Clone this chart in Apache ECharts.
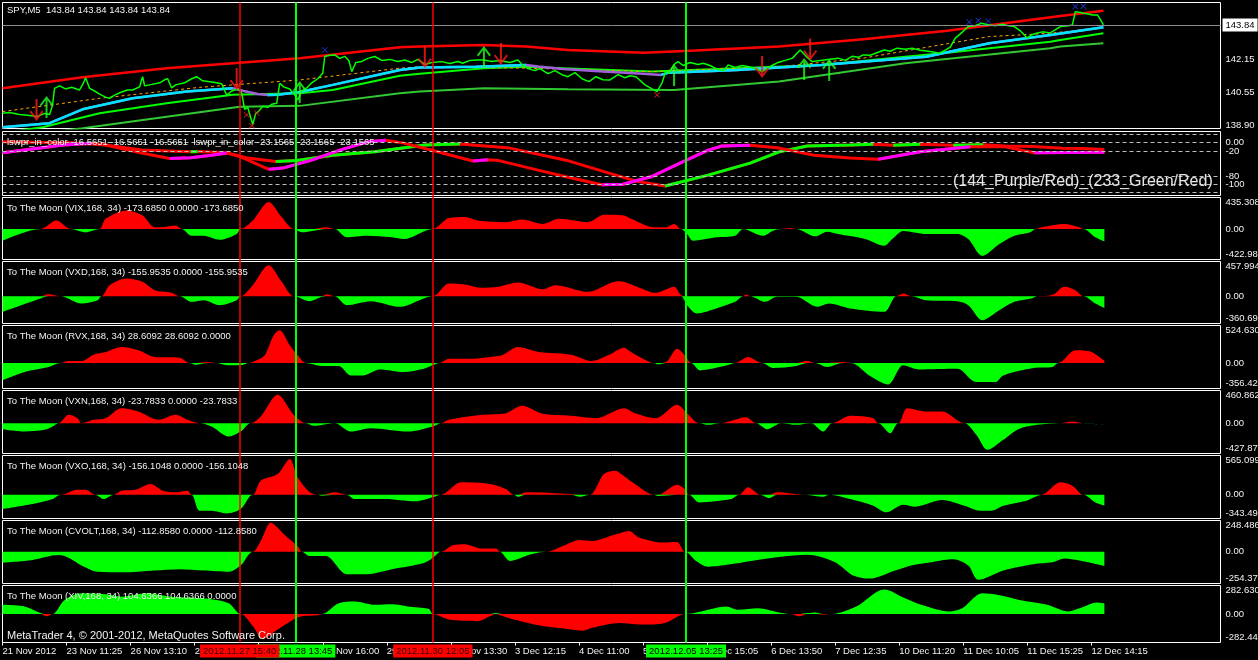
<!DOCTYPE html>
<html><head><meta charset="utf-8">
<script src="https://cdn.jsdelivr.net/npm/echarts@6/dist/echarts.min.js"></script>
<style>html,body{margin:0;padding:0;background:#000;}#c{width:1258px;height:660px;}</style>
</head><body><div id="c"></div>
<script>
// ---------------- DATA (x = bar index, 1 bar = one M5 candle) ----------------
const timeTicks = [0,64,128,192,256,320,384,448,512,576,640,704,768,832,896,960,1024,1088];
const timeLabels = ['21 Nov 2012','23 Nov 11:25','26 Nov 13:10','27 Nov 11:55','28 Nov 10:40','28 Nov 16:00','29 Nov 14:45','30 Nov 13:30','3 Dec 12:15','4 Dec 11:00','5 Dec 09:45','5 Dec 15:05','6 Dec 13:50','7 Dec 12:35','10 Dec 11:20','11 Dec 10:05','11 Dec 15:25','12 Dec 14:15'];

const markerBars = [293, 683, 237, 430];
const markerLabels = ['2012.11.28 13:45','2012.12.05 13:25','2012.11.27 15:40','2012.11.30 12:05'];
const markerColors = ['#00ff00','#00ff00','#ff0000','#ff0000'];

const priceTicks = [138.90, 140.55, 142.15];
const lastPrice = 143.84;

const price = [[0,139.51],[7,139.55],[17,139.45],[27,139.40],[35,139.35],[42,139.50],[47,139.45],[50,139.90],[52,140.73],[57,140.85],[63,140.70],[69,140.78],[77,140.65],[81,141.00],[83,141.25],[87,140.73],[92,140.60],[97,140.45],[103,140.30],[107,140.24],[112,140.40],[119,140.55],[125,140.65],[130,140.65],[137,140.80],[140,141.30],[142,140.85],[147,140.90],[157,141.00],[162,141.15],[165,141.20],[169,140.75],[173,140.90],[182,141.00],[189,141.20],[194,141.30],[200,141.10],[207,141.05],[214,141.00],[219,140.95],[224,140.40],[229,140.60],[235,140.70],[239,140.50],[242,139.70],[245,139.80],[248,139.30],[250,138.95],[253,139.50],[256,139.60],[260,139.85],[265,139.80],[269,139.95],[274,140.00],[277,140.98],[281,140.80],[287,140.70],[292,140.40],[295,140.16],[299,140.60],[304,140.75],[309,141.00],[315,141.20],[320,141.47],[322,142.29],[327,142.35],[332,142.37],[337,142.20],[342,142.30],[346,142.10],[349,141.55],[353,142.00],[359,142.05],[365,142.20],[372,142.29],[379,142.10],[387,142.15],[395,142.05],[402,142.12],[409,142.00],[415,142.15],[422,141.90],[429,142.00],[439,142.04],[447,141.95],[455,142.05],[460,141.96],[467,142.10],[475,142.12],[481,142.12],[489,142.05],[497,142.10],[507,142.00],[515,142.12],[520,141.85],[525,141.70],[532,141.60],[537,141.70],[545,141.45],[552,141.60],[559,141.40],[565,141.30],[572,141.50],[579,141.20],[586,141.06],[593,141.30],[600,141.15],[607,141.14],[615,141.40],[622,141.25],[627,141.35],[633,141.30],[642,140.90],[649,140.70],[654,140.57],[659,141.00],[663,141.60],[666,141.47],[671,141.90],[675,142.04],[680,141.85],[687,142.00],[695,141.90],[700,141.96],[707,141.85],[713,141.70],[717,141.63],[721,141.60],[725,141.88],[732,141.75],[739,141.85],[746,141.79],[752,141.70],[759,141.55],[767,141.80],[775,142.00],[782,142.10],[789,142.20],[797,142.61],[803,142.30],[809,142.04],[817,142.10],[825,142.15],[835,142.21],[842,142.10],[849,142.30],[855,142.25],[860,142.37],[867,142.35],[875,142.50],[881,142.61],[887,142.55],[894,142.70],[902,142.65],[909,142.70],[917,142.60],[925,142.55],[931,142.50],[936,142.45],[942,142.60],[947,142.75],[952,143.19],[957,143.40],[965,143.76],[972,143.80],[978,143.92],[985,143.85],[992,143.80],[999,143.88],[1005,143.80],[1011,143.76],[1017,143.55],[1024,143.19],[1028,143.35],[1033,143.43],[1039,143.50],[1047,143.45],[1057,143.76],[1065,143.80],[1069,143.84],[1072,144.49],[1077,144.45],[1080,144.41],[1085,144.38],[1089,144.33],[1094,144.33],[1097,144.10],[1100,143.84]];
const upperBand = [[0,140.73],[80,141.27],[164,141.72],[237,141.99],[297,142.21],[397,142.74],[417,142.78],[481,142.86],[523,142.78],[565,142.61],[641,142.48],[692,142.58],[776,142.78],[860,143.14],[944,143.55],[1057,144.28],[1100,144.54]];
const cyanMA = [[0,138.82],[47,139.02],[80,139.70],[130,140.24],[184,140.57],[230,140.73],[241,140.60],[255,140.45],[265,140.40],[275,140.42],[297,140.55],[330,140.90],[397,141.63],[417,141.75],[473,141.79],[523,141.88],[535,141.80],[560,141.68],[600,141.55],[640,141.45],[658,141.39],[666,141.50],[734,141.63],[818,141.88],[923,142.28],[986,142.94],[1047,143.35],[1100,143.73]];
const limeMA = [[0,138.55],[40,138.82],[97,139.51],[164,140.00],[230,140.41],[297,140.49],[330,140.65],[397,141.35],[417,141.45],[481,141.72],[523,141.79],[560,141.72],[649,141.55],[734,141.72],[818,141.88],[902,142.28],[944,142.48],[1047,143.02],[1057,143.10],[1100,143.43]];
const slowMA = [[0,138.30],[80,138.77],[164,139.34],[237,139.83],[297,139.87],[397,140.49],[417,140.57],[481,140.73],[565,140.69],[671,140.65],[776,141.06],[902,141.96],[1047,142.70],[1057,142.78],[1100,142.94]];
const trendLine = [[0,139.59],[97,140.24],[197,140.78],[297,141.14],[397,141.72],[417,141.79],[523,141.72],[649,141.55],[776,141.79],[860,142.21],[986,143.27],[1047,143.43],[1070,143.56],[1094,143.68]];
const sellArrows = [[34,139.67],[234,141.19],[422,142.25],[498,142.42],[759,141.78],[807,142.64]];
const buyArrows = [[44,139.82],[297,140.55],[481,142.27],[671,141.39],[801,141.68],[826,141.63]];
const blueMarks = [[322,142.61],[966,143.98],[975,144.06],[985,144.02],[1072,144.74],[1080,144.76]];
const redMarks = [[244,139.43],[249,138.90],[254,139.52],[654,140.41]];

const wprLevels = [20, 0, -20, -80, -100, -120];
const wprFast = [[0,-24],[61,-5.5],[89,-1.4],[103,-5.5],[139,-25],[167,-38],[188,-36],[209,-30],[224,-25],[238,-34],[252,-49],[266,-64],[280,-61],[309,-42],[337,-18],[365,2],[383,6],[401,-1],[429,-18],[470,-44],[485,-41],[496,-43],[535,-66],[563,-82],[599,-101],[620,-100],[648,-82],[677,-49],[705,-18],[719,-8],[747,-6],[776,-13],[811,-30],[847,-37],[875,-40],[917,-22],[967,-10],[1002,-10],[1031,-24],[1101,-23.2]];
const wprSlow = [[0,2],[68,0],[103,-5.5],[139,-17.5],[188,-22],[195,-21],[224,-24],[245,-37],[273,-45],[294,-43],[330,-30],[372,-22],[422,-5.5],[457,-3],[507,-13],[563,-42],[606,-73],[634,-93],[662,-104],[705,-78],[747,-49],[776,-22],[804,-8],[847,-5.5],[870,-4],[890,-6],[917,-4],[950,-6],[980,-5],[1002,-8],[1030,-9],[1059,-13.4],[1080,-14],[1101,-16.6]];

const vix = [[0,-164],[38,0],[54,116],[68,0],[83,-46],[97,0],[103,140],[124,256],[140,186],[152,24],[160,24],[173,46],[179,0],[189,-94],[201,-94],[217,-150],[234,-70],[238,0],[250,116],[266,374],[279,164],[291,0],[299,-46],[311,-24],[323,24],[332,0],[344,-116],[364,-94],[389,-116],[401,-140],[430,0],[446,150],[462,164],[475,116],[503,94],[519,130],[540,70],[556,140],[585,94],[601,196],[621,186],[628,140],[651,24],[663,24],[671,70],[678,0],[684,-70],[690,-164],[713,-116],[732,-94],[740,0],[760,-94],[770,-24],[778,0],[787,14],[793,0],[812,-102],[824,-38],[835,-70],[862,-140],[881,-234],[889,-140],[900,-28],[923,-70],[954,-70],[965,-140],[979,-374],[996,-210],[1011,-94],[1027,-46],[1032,0],[1038,24],[1061,70],[1076,24],[1080,0],[1092,-116],[1101,-174]];
const vxd = [[0,-207],[38,-30],[46,26],[58,0],[79,-97],[95,-53],[99,0],[107,145],[124,234],[140,189],[152,79],[168,49],[177,0],[189,-75],[201,-53],[217,-119],[234,-53],[238,0],[250,145],[266,409],[279,189],[291,0],[307,-66],[319,-9],[324,26],[332,0],[344,-119],[368,-66],[397,-141],[430,0],[446,167],[462,154],[479,110],[495,123],[515,181],[540,92],[552,145],[585,57],[609,181],[617,198],[632,136],[653,44],[671,123],[678,13],[684,-119],[694,-229],[713,-163],[732,-75],[740,0],[743,22],[747,0],[762,-75],[774,-9],[793,-9],[814,-141],[826,-97],[847,-163],[881,-207],[893,0],[900,35],[908,0],[923,-53],[954,-66],[965,-119],[979,-317],[996,-185],[1011,-75],[1028,-31],[1034,0],[1050,22],[1061,123],[1072,79],[1080,0],[1092,-97],[1101,-156]];
const rvx = [[0,-243],[22,-126],[46,-56],[58,0],[66,28],[79,28],[91,117],[103,154],[119,224],[136,177],[152,84],[177,75],[187,0],[193,-23],[205,14],[213,0],[226,-33],[238,-33],[246,0],[254,37],[262,107],[271,387],[277,457],[287,247],[295,107],[303,0],[319,-42],[336,-42],[348,-173],[360,-173],[377,-89],[401,-126],[421,-79],[430,-33],[436,0],[446,61],[470,61],[487,84],[499,107],[515,224],[536,154],[568,117],[589,28],[605,107],[621,215],[628,154],[640,61],[651,0],[655,-19],[663,14],[674,201],[682,107],[688,0],[697,-103],[724,-33],[732,0],[745,84],[759,0],[770,-70],[793,-42],[804,28],[812,0],[824,-56],[839,14],[848,0],[866,-173],[885,-300],[900,-33],[915,-89],[954,-79],[973,-266],[992,-266],[1000,-173],[1030,-70],[1049,-56],[1055,0],[1072,177],[1088,154],[1101,29]];
const vxn = [[0,-85],[22,-118],[42,-94],[50,-47],[56,0],[66,118],[75,71],[79,0],[91,47],[103,71],[119,212],[136,165],[156,47],[173,118],[185,47],[197,0],[209,-47],[226,-188],[238,-118],[248,0],[258,94],[275,400],[291,118],[303,0],[311,-38],[332,0],[348,-118],[368,-71],[405,-118],[430,-47],[438,0],[446,47],[479,118],[503,141],[519,245],[540,132],[568,104],[593,71],[621,212],[632,141],[653,71],[674,259],[684,141],[696,0],[705,-24],[717,0],[743,85],[753,0],[764,-85],[778,0],[793,-24],[808,0],[820,-118],[829,0],[847,104],[870,71],[875,0],[887,-141],[895,0],[904,212],[923,165],[939,165],[961,0],[973,-165],[984,-376],[1000,-235],[1015,-85],[1034,-24],[1057,0],[1069,24],[1080,0],[1101,-24]];
const vxo = [[0,-207],[30,-135],[50,-63],[58,0],[75,72],[83,72],[93,0],[101,-63],[111,0],[119,58],[132,67],[148,154],[160,58],[173,34],[185,58],[189,0],[197,-231],[209,-231],[224,-270],[238,-207],[250,0],[258,202],[275,298],[287,515],[295,250],[307,34],[315,0],[319,-14],[332,34],[344,0],[352,-63],[381,-63],[413,-96],[430,-38],[438,0],[458,178],[487,154],[503,82],[511,0],[515,-29],[523,34],[568,10],[577,-29],[587,0],[601,298],[613,346],[617,308],[632,154],[651,0],[655,-19],[674,144],[682,82],[686,0],[696,-111],[728,-63],[736,0],[745,106],[757,0],[766,-48],[774,34],[801,0],[820,-29],[826,0],[847,-63],[870,-159],[883,-255],[900,-144],[912,-173],[939,-77],[961,-159],[977,-231],[988,-231],[1000,-159],[1023,-87],[1032,-29],[1038,0],[1057,178],[1069,130],[1080,0],[1092,-111],[1101,-156]];
const cvolt = [[0,-88],[30,-66],[56,-27],[66,-48],[79,-110],[95,-160],[119,-165],[152,-150],[177,-140],[201,-150],[226,-160],[238,-110],[250,0],[258,85],[268,231],[283,125],[295,45],[299,0],[307,-35],[323,-35],[344,-180],[364,-180],[389,-140],[421,-90],[430,-48],[438,0],[450,51],[462,59],[479,24],[493,24],[497,0],[507,-74],[528,-21],[544,0],[560,45],[577,93],[589,85],[613,138],[626,165],[636,112],[659,72],[674,77],[682,0],[693,-74],[705,-120],[732,-95],[751,-70],[778,-40],[804,-25],[831,-80],[850,-190],[866,-215],[892,-150],[908,-110],[923,-90],[950,-60],[965,-110],[975,-225],[1000,-150],[1030,-100],[1049,-85],[1061,-55],[1076,-70],[1101,-113]];
const xiv = [[0,91],[22,75],[38,10],[44,-23],[50,0],[62,140],[79,205],[103,195],[119,172],[144,205],[168,172],[201,156],[226,107],[238,0],[250,-120],[260,-245],[275,-153],[291,-55],[299,-23],[315,-13],[319,0],[336,107],[352,124],[372,91],[389,97],[405,75],[426,49],[430,0],[446,-55],[475,-71],[487,-23],[493,10],[499,-17],[511,-55],[540,-120],[568,-153],[580,-165],[589,-136],[617,-88],[637,-104],[662,-88],[682,0],[698,26],[723,75],[735,42],[755,58],[776,16],[788,0],[796,-23],[804,10],[812,16],[820,-7],[828,0],[853,75],[881,244],[902,156],[918,91],[946,26],[959,58],[979,205],[995,188],[1016,140],[1044,91],[1064,26],[1081,75],[1093,114],[1101,105]];

// ---------------- LAYOUT ----------------
const FONT = "'Liberation Sans', Arial, sans-serif";
const TXT = '#f2f2f2';
const FS = 9.5;
const LEFT = 2.5, WIDTH = 1218, XMAX = 1217;
const panelBoxes = [
  {top:2.5, h:126}, {top:131.5, h:64}, {top:197.5, h:62}, {top:261.5, h:62},
  {top:325.5, h:63}, {top:390.5, h:63}, {top:455.5, h:63}, {top:520.5, h:63}, {top:585.5, h:57}
];
const oscDefs = [
  {data:vix, min:-422.9815, max:435.3083, pos:'#ff0000', neg:'#00ff00', title:'To The Moon (VIX,168, 34) -173.6850 0.0000 -173.6850'},
  {data:vxd, min:-360.6913, max:457.9946, pos:'#ff0000', neg:'#00ff00', title:'To The Moon (VXD,168, 34) -155.9535 0.0000 -155.9535'},
  {data:rvx, min:-356.4295, max:524.6303, pos:'#ff0000', neg:'#00ff00', title:'To The Moon (RVX,168, 34) 28.6092 28.6092 0.0000'},
  {data:vxn, min:-427.8701, max:460.8624, pos:'#ff0000', neg:'#00ff00', title:'To The Moon (VXN,168, 34) -23.7833 0.0000 -23.7833'},
  {data:vxo, min:-343.4953, max:565.0995, pos:'#ff0000', neg:'#00ff00', title:'To The Moon (VXO,168, 34) -156.1048 0.0000 -156.1048'},
  {data:cvolt, min:-254.3751, max:248.4864, pos:'#ff0000', neg:'#00ff00', title:'To The Moon (CVOLT,168, 34) -112.8580 0.0000 -112.8580'},
  {data:xiv, min:-282.4425, max:282.6309, pos:'#00ff00', neg:'#ff0000', title:'To The Moon (XIV,168, 34) 104.6366 104.6366 0.0000'}
];

function risingParts(pts){
  const out=[]; let last=-1;
  for(let i=0;i<pts.length-1;i++){
    if(pts[i+1][1]>pts[i][1]){
      if(last!==i){ if(out.length) out.push([pts[i][0], null]); out.push(pts[i]); }
      out.push(pts[i+1]); last=i+1;
    }
  }
  return out;
}

const grids=[], xAxes=[], yAxes=[], series=[], titles=[];
const gridBase = {outerBoundsMode:'none', containLabel:false};
panelBoxes.forEach((b,i)=>{
  grids.push(Object.assign({left:LEFT, top:b.top, width:WIDTH, height:b.h, show:true, borderColor:'#ffffff', borderWidth:1, backgroundColor:'#000'}, gridBase));
  xAxes.push({type:'value', gridIndex:i, min:0, max:XMAX, show:false});
});
grids.push(Object.assign({left:LEFT, top:2.5, width:WIDTH, height:640, show:false}, gridBase));
xAxes.push({type:'value', gridIndex:9, min:0, max:XMAX, position:'bottom',
  axisLine:{show:false}, splitLine:{show:false},
  axisTick:{show:true, customValues:timeTicks, length:3, lineStyle:{color:'#ffffff'}},
  axisLabel:{show:true, customValues:timeTicks, align:'left', color:TXT, fontSize:FS, fontFamily:FONT, margin:4,
    formatter:(v)=>timeLabels[timeTicks.indexOf(v)]}});

const axisBase = (gi,min,max,vals,fmt,extra)=>({type:'value', gridIndex:gi, min, max, position:'right',
  axisLine:{show:false}, splitLine:{show:false}, axisTick:{show:false},
  axisLabel:Object.assign({show:true, customValues:vals, color:TXT, fontSize:FS, fontFamily:FONT, margin:5, formatter:fmt}, extra||{})});

yAxes.push(axisBase(0, 138.76, 144.94, priceTicks, v=>v.toFixed(2)));
yAxes.push(axisBase(1, -126.9, 26.9, wprLevels, v=>v===0?'0.00':String(v)));
oscDefs.forEach((d,k)=>{
  yAxes.push(axisBase(k+2, d.min, d.max, [d.min,0,d.max], v=>v===0?'0.00':v.toFixed(4),
    {verticalAlignMaxLabel:'top', verticalAlignMinLabel:'bottom'}));
});
yAxes.push({type:'value', gridIndex:9, min:0, max:1, show:false});

const lineS = (gi,data,color,width,extra)=>Object.assign({type:'line', xAxisIndex:gi, yAxisIndex:gi, data, showSymbol:false, symbol:'none', smooth:false, silent:true,
  lineStyle:{color, width}, itemStyle:{color}}, extra||{});

// price panel
series.push(lineS(0, slowMA, '#32c832', 2));
series.push(lineS(0, limeMA, '#00ff00', 2));
series.push(lineS(0, trendLine, '#ffa500', 1, {lineStyle:{color:'#ffa500', width:1, type:[3,3]}}));
series.push(lineS(0, cyanMA, '#a060d8', 2.5));
series.push(lineS(0, risingParts(cyanMA), '#00e5ff', 2.5, {connectNulls:false}));
series.push(lineS(0, upperBand, '#ff0000', 2.5));
series.push(lineS(0, price, '#00ff00', 1.5, {
  markLine:{silent:true, symbol:['none','none'], animation:false,
    lineStyle:{color:'#8c8c8c', width:1, type:'solid'},
    label:{show:true, position:'end', distance:2, formatter:lastPrice.toFixed(2), color:'#000', backgroundColor:'#ffffff', padding:[2,3,1,3], fontSize:FS, fontFamily:FONT},
    data:[{yAxis:lastPrice}]}}));
const downPath = 'path://M6,0 L8,0 L8,16 L12.5,10.5 L14,11.7 L7,20 L0,11.7 L1.5,10.5 L6,16 Z';
const upPath = 'path://M6,20 L8,20 L8,4 L12.5,9.5 L14,8.3 L7,0 L0,8.3 L1.5,9.5 L6,4 Z';
const xPath = 'path://M0,1 L1,0 L5,4 L9,0 L10,1 L6,5 L10,9 L9,10 L5,6 L1,10 L0,9 L4,5 Z';
series.push({type:'scatter', xAxisIndex:0, yAxisIndex:0, data:sellArrows, symbol:downPath, symbolSize:[14,22], itemStyle:{color:'#ff1a1a'}, silent:true, z:5});
series.push({type:'scatter', xAxisIndex:0, yAxisIndex:0, data:buyArrows, symbol:upPath, symbolSize:[14,22], itemStyle:{color:'#22ff22'}, silent:true, z:5});
series.push({type:'scatter', xAxisIndex:0, yAxisIndex:0, data:blueMarks, symbol:xPath, symbolSize:6, itemStyle:{color:'#2040ff'}, silent:true, z:5});
series.push({type:'scatter', xAxisIndex:0, yAxisIndex:0, data:redMarks, symbol:xPath, symbolSize:6, itemStyle:{color:'#ff2020'}, silent:true, z:5});

// wpr panel
series.push(lineS(1, wprSlow, '#ff0000', 3, {
  markLine:{silent:true, symbol:['none','none'], animation:false, label:{show:false},
    lineStyle:{color:'#bdbdbd', width:1, type:[4,3]}, data:wprLevels.map(v=>({yAxis:v}))}}));
series.push(lineS(1, risingParts(wprSlow), '#00ff00', 3, {connectNulls:false}));
series.push(lineS(1, wprFast, '#ff0000', 3));
series.push(lineS(1, risingParts(wprFast), '#ff00ff', 3, {connectNulls:false}));

// oscillator panels: positive part and negative part filled to zero
oscDefs.forEach((d,k)=>{
  const gi=k+2;
  const posPart = d.data.map(p=>[p[0], Math.max(p[1],0)]);
  const negPart = d.data.map(p=>[p[0], Math.min(p[1],0)]);
  [[posPart,d.pos],[negPart,d.neg]].forEach(([arr,col])=>{
    series.push({type:'line', xAxisIndex:gi, yAxisIndex:gi, data:arr, showSymbol:false, symbol:'none', smooth:0.3, silent:true,
      lineStyle:{width:0, color:col}, itemStyle:{color:col}, areaStyle:{opacity:1, color:col, origin:0}});
  });
  titles.push({text:d.title, left:7, top:panelBoxes[gi].top+5.5, padding:0, textStyle:{color:TXT, fontSize:FS, fontFamily:FONT, fontWeight:'normal'}});
});

// overlay vertical lines
series.push({type:'line', xAxisIndex:9, yAxisIndex:9, data:[[0,0.5]], symbol:'none', lineStyle:{opacity:0}, silent:true, z:6,
  markLine:{silent:true, symbol:['none','none'], animation:false,
    data:markerBars.map((b,i)=>({xAxis:b,
      lineStyle:{color:markerColors[i], width:markerColors[i]==='#ff0000'?1.5:2, type:'solid'},
      label:{show:true, position:'start', distance:2, formatter:markerLabels[i], color: markerColors[i]==='#ff0000'?'#3a0000':'#000000',
        backgroundColor:markerColors[i], padding:[2,3,1,3], fontSize:FS, fontFamily:FONT}}))}});

titles.push({text:'SPY,M5  143.84 143.84 143.84 143.84', left:7, top:5, padding:0, textStyle:{color:TXT, fontSize:FS, fontFamily:FONT, fontWeight:'normal'}});
titles.push({text:'lswpr_in_color -16.5651 -16.5651 -16.5651  lswpr_in_color -23.1565 -23.1565 -23.1565', left:7, top:137, padding:0, textStyle:{color:TXT, fontSize:FS, fontFamily:FONT, fontWeight:'normal'}});
titles.push({text:'(144_Purple/Red)_(233_Green/Red)', left:953, top:174, padding:0, textStyle:{color:'#e6e6e6', fontSize:16, fontFamily:FONT, fontWeight:'normal'}});
titles.push({text:'MetaTrader 4, © 2001-2012, MetaQuotes Software Corp.', left:7, top:630, padding:0, textStyle:{color:TXT, fontSize:11, fontFamily:FONT, fontWeight:'normal'}});

const chart = echarts.init(document.getElementById('c'), null, {renderer:'canvas'});
chart.setOption({
  backgroundColor:'#000000', animation:false,
  title:titles, grid:grids, xAxis:xAxes, yAxis:yAxes, series:series,
  tooltip:{show:false}
});
</script></body></html>
